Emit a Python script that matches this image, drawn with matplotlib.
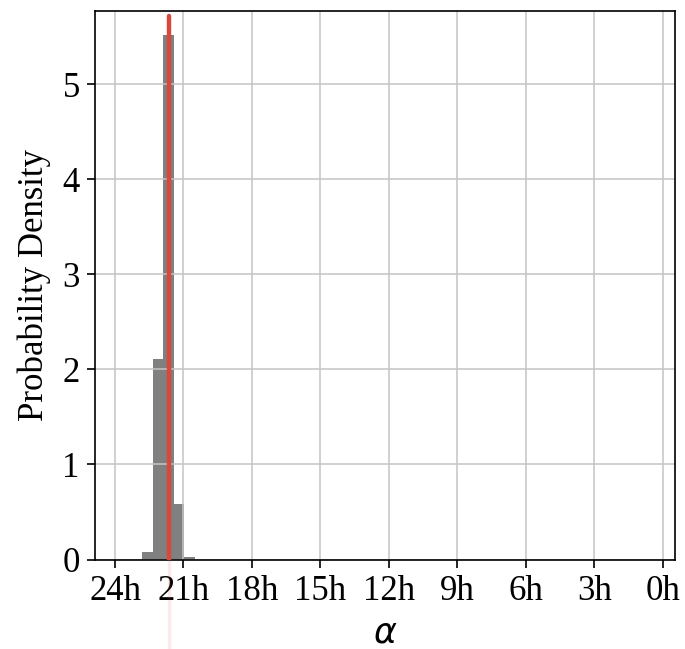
import numpy as np
import matplotlib
matplotlib.use("Agg")
import matplotlib.pyplot as plt

# Histogram bin edges (hours of right ascension) and densities (per radian)
bin_edges_h = [22.80, 22.34, 21.88, 21.42, 20.96, 20.49]
densities = [0.076, 2.11, 5.515, 0.58, 0.03]
truth_h = 21.634
tick_hours = [24, 21, 18, 15, 12, 9, 6, 3, 0]
tick_labels = ["24h", "21h", "18h", "15h", "12h", "9h", "6h", "3h", "0h"]
y_ticks = [0, 1, 2, 3, 4, 5]

plt.rcParams['font.family'] = ['Liberation Serif', 'DejaVu Serif']
plt.rcParams['mathtext.fontset'] = 'dejavusans'

fig = plt.figure(figsize=(6.85, 6.49), dpi=100)
ax = fig.add_axes([0.1387, 0.1379, 0.9854 - 0.1387, 0.9838 - 0.1379])

edges = np.array(bin_edges_h)
lefts = np.minimum(edges[:-1], edges[1:])
widths = np.abs(np.diff(edges))
ax.bar(lefts, densities, width=widths, align='edge', color='#808080',
       edgecolor='none', linewidth=0)

ax.plot([truth_h, truth_h], [0, 5.72], color='#d9483b', lw=3.2,
        solid_capstyle='round', zorder=3)
ax.plot([truth_h, truth_h], [0, -0.93], color='#e05a4c', lw=2.5,
        alpha=0.12, clip_on=False, zorder=3)

ax.set_xlim(24.876, -0.539)
ax.set_ylim(0, 5.773)
ax.set_xticks(tick_hours)
ax.set_xticklabels(tick_labels)
ax.set_yticks(y_ticks)
ax.grid(True, color='#c4c4c4', lw=1.1)
ax.tick_params(labelsize=25, length=6, width=1.2, pad=5)
for s in ax.spines.values():
    s.set_linewidth(1.2)
ax.set_ylabel('Probability Density', fontsize=25, labelpad=8)
ax.set_xlabel(r'$\alpha$', fontsize=25, labelpad=7)

fig.savefig('out.png', dpi=100)
